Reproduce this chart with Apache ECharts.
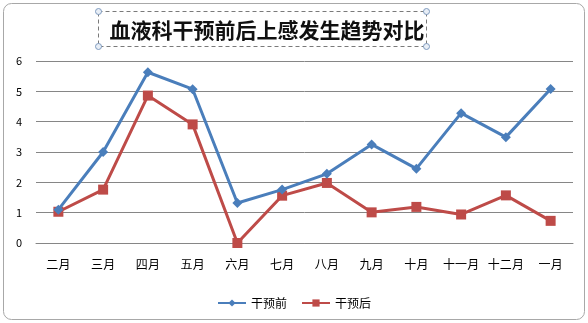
<!DOCTYPE html>
<html>
<head>
<meta charset="utf-8">
<script src="https://cdn.jsdelivr.net/npm/echarts@6/dist/echarts.min.js"></script>
<style>
  html, body { margin: 0; padding: 0; background: #ffffff; }
  #chart { width: 588px; height: 323px; }
</style>
</head>
<body>
<div id="chart"></div>
<script>
// Months on the category axis
const months = ['二月', '三月', '四月', '五月', '六月', '七月', '八月', '九月', '十月', '十一月', '十二月', '一月'];
// Series names
const seriesNames = ['干预前', '干预后'];
// Infection counts before intervention
const beforeValues = [1.1, 3.0, 5.63, 5.07, 1.32, 1.76, 2.28, 3.25, 2.45, 4.28, 3.49, 5.08];
// Infection counts after intervention
const afterValues = [1.03, 1.76, 4.86, 3.91, 0, 1.56, 1.98, 1.01, 1.19, 0.94, 1.57, 0.73];
// Value-axis tick labels
const yTicks = [0, 1, 2, 3, 4, 5, 6];
const chartTitle = '血液科干预前后上感发生趋势对比';

const cjk = '"Noto Sans CJK SC", "Noto Sans", sans-serif';
const chart = echarts.init(document.getElementById('chart'), null, { renderer: 'canvas' });

const handle = (x, y) => ({
  type: 'circle',
  shape: { cx: x, cy: y, r: 3 },
  style: { fill: '#e8eef6', stroke: '#7f9bbf', lineWidth: 1 },
  silent: true
});

chart.setOption({
  backgroundColor: '#ffffff',
  animation: false,
  title: {
    text: chartTitle,
    left: 262,
    textAlign: 'center',
    top: 15,
    textStyle: { fontFamily: cjk, fontSize: 21, fontWeight: 'bold', color: '#101010' }
  },
  graphic: [
    {
      type: 'rect',
      shape: { x: 3.5, y: 3.5, width: 581, height: 316, r: 8 },
      style: { fill: 'none', stroke: '#a8a8a8', lineWidth: 1 },
      silent: true, z: -1
    },
    {
      type: 'rect',
      shape: { x: 98.5, y: 11.5, width: 328, height: 35 },
      style: { fill: 'none', stroke: '#7a7a7a', lineWidth: 1, lineDash: [4, 3] },
      silent: true
    },
    handle(98.5, 11.5), handle(426.5, 11.5), handle(98.5, 46.5), handle(426.5, 46.5)
  ],
  legend: {
    data: seriesNames,
    left: 'center',
    top: 292,
    itemWidth: 28,
    itemHeight: 9,
    itemGap: 14,
    textStyle: { fontFamily: cjk, fontSize: 12, color: '#000' }
  },
  grid: { left: 36, right: 15, top: 61, bottom: 80, containLabel: false },
  xAxis: {
    type: 'category',
    data: months,
    boundaryGap: true,
    axisLine: { show: true, lineStyle: { color: '#868686', width: 1 } },
    axisTick: { show: false },
    axisLabel: { fontFamily: cjk, fontSize: 12, color: '#000', margin: 15, interval: 0 }
  },
  yAxis: {
    type: 'value',
    min: yTicks[0],
    max: yTicks[yTicks.length - 1],
    interval: 1,
    axisLine: { show: false },
    axisTick: { show: false },
    axisLabel: { fontFamily: cjk, fontSize: 11, color: '#000', margin: 14 },
    splitLine: { lineStyle: { color: '#868686', width: 1 } }
  },
  series: [
    {
      name: seriesNames[0],
      type: 'line',
      data: beforeValues,
      symbol: 'diamond',
      symbolSize: 10,
      lineStyle: { color: '#4a7ebb', width: 3 },
      itemStyle: { color: '#4a7ebb' },
      z: 3
    },
    {
      name: seriesNames[1],
      type: 'line',
      data: afterValues,
      symbol: 'rect',
      symbolSize: 10,
      lineStyle: { color: '#be4b48', width: 3 },
      itemStyle: { color: '#be4b48' },
      z: 2
    }
  ]
});
</script>
</body>
</html>
